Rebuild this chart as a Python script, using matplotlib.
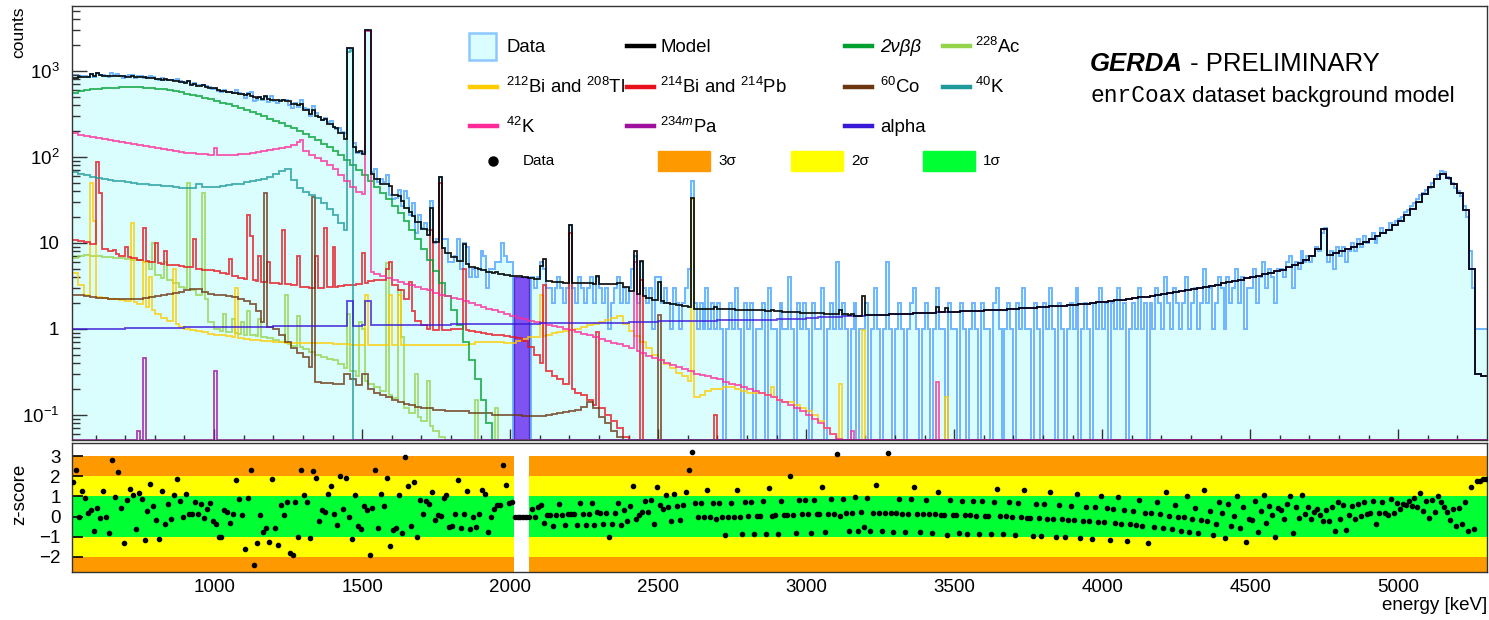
import math
from statistics import NormalDist
import numpy as np
import matplotlib
matplotlib.use("Agg")
import matplotlib.pyplot as plt
from matplotlib.lines import Line2D
from matplotlib.patches import Rectangle
from matplotlib.ticker import FixedLocator, FixedFormatter, NullFormatter

plt.rcParams['font.family'] = ['Liberation Sans', 'DejaVu Sans']
plt.rcParams['mathtext.fontset'] = 'custom'
plt.rcParams['mathtext.rm'] = 'Liberation Sans'
plt.rcParams['mathtext.it'] = 'Liberation Sans:italic'
plt.rcParams['mathtext.bf'] = 'Liberation Sans:bold'

# ---------------- binning ----------------
E_MIN, E_MAX = 520, 5300
BIN_W = 10          # data / model binning [keV]
GRID_W = 20         # resolution of the component continua [keV]
BLIND_LO, BLIND_HI = 2014, 2064
Y_MIN, Y_MAX = 0.051, 5700

# ---------------- component continua (counts per 10 keV, listed every 20 keV from 520 keV) ----------------
TWONBB = [560, 580, 595, 610, 620, 628, 635, 640, 643, 645,
          645, 643, 640, 635, 625, 612, 598, 582, 565, 547,
          528, 508, 488, 468, 448, 428, 408, 388, 368, 350,
          332, 314, 297, 280, 264, 248, 232, 216, 200, 185,
          170, 156, 142, 129, 116, 104, 92, 81, 71, 62,
          53, 45, 38, 32, 27, 22, 18, 14, 11, 8.5,
          6.4, 4.7, 3.4, 2.4, 1.65, 1.1, 0.7, 0.43, 0.26, 0.15,
          0.08, 0.04, 0.02, 0.008, 0.003, 0.001]
K42 = [188, 182, 177, 172, 167, 162, 157, 153, 149, 145,
       141, 137, 133, 129, 126, 123, 120, 117, 114, 112,
       110, 108, 107, 106, 105, 105, 105, 106, 107, 109,
       111, 113, 116, 119, 123, 127, 132, 138, 148, 118,
       106, 97, 89, 80, 72, 62, 52, 45, 39, 37,
       4.6, 4.4, 4.1, 3.9, 3.7, 3.5, 3.35, 3.2, 3.1, 2.95,
       2.8, 2.65, 2.5, 2.4, 2.3, 2.2, 2.1, 2.0, 1.9, 1.8,
       1.72, 1.64, 1.56, 1.48, 1.41, 1.35, 1.3, 1.25, 1.2, 1.16,
       1.12, 1.08, 1.04, 1.0, 0.96, 0.92, 0.88, 0.84, 0.8, 0.76,
       0.72, 0.69, 0.66, 0.63, 0.6, 0.56, 0.52, 0.49, 0.46, 0.43,
       0.4, 0.38, 0.36, 0.34, 0.32, 0.3, 0.29, 0.28, 0.27, 0.26,
       0.24, 0.23, 0.22, 0.21, 0.2, 0.19, 0.18, 0.17, 0.16, 0.15,
       0.14, 0.13, 0.12, 0.11, 0.1, 0.09, 0.08, 0.07, 0.06, 0.052,
       0.045, 0.04]
K40 = [66, 63, 61, 59, 57, 56, 54, 53, 52, 51,
       50, 49, 48, 47, 47, 46, 46, 45, 44, 44,
       44, 48, 45, 45, 45, 46, 47, 48, 49, 51,
       52, 54, 56, 59, 63, 68, 72, 54, 44, 39,
       36, 33, 29, 25, 21, 17, 14]
BI214 = [10.8, 10.5, 10.2, 9.8, 9.3, 8.6, 8.0, 7.5, 7.1, 6.8,
         6.6, 6.4, 6.2, 6.0, 5.8, 5.7, 5.6, 5.5, 5.4, 5.3,
         5.2, 5.0, 4.9, 4.8, 4.7, 4.5, 4.3, 4.1, 3.9, 3.8,
         3.7, 3.6, 3.5, 3.45, 3.4, 3.35, 3.3, 3.2, 3.1, 3.05,
         3.0, 3.0, 3.0, 3.05, 3.1, 3.15, 3.2, 3.25, 3.3, 3.4,
         3.6, 3.7, 3.7, 3.5, 3.2, 2.8, 2.2, 1.6, 1.25, 1.1,
         1.0, 0.97, 0.97, 0.98, 1.0, 1.0, 0.98, 0.95, 0.92, 0.9,
         0.88, 0.86, 0.84, 0.82, 0.8, 0.78, 0.72, 0.62, 0.5, 0.4,
         0.32, 0.28, 0.26, 0.23, 0.2, 0.18, 0.17, 0.15, 0.13, 0.12,
         0.1, 0.085, 0.07, 0.055, 0.04]
CO60 = [2.5, 2.45, 2.4, 2.35, 2.3, 2.28, 2.25, 2.22, 2.2, 2.2,
        2.2, 2.22, 2.27, 2.33, 2.4, 2.48, 2.56, 2.64, 2.72, 2.8,
        2.88, 2.95, 2.7, 2.55, 2.5, 2.45, 2.4, 2.35, 2.25, 2.1,
        1.95, 1.6, 1.2, 1.05, 1.0, 0.85, 0.7, 0.6, 0.53, 0.47,
        0.36, 0.24, 0.235, 0.235, 0.23, 0.23, 0.3, 0.26, 0.22, 0.3,
        0.2, 0.18, 0.17, 0.16, 0.15, 0.14, 0.135, 0.13, 0.125, 0.12,
        0.12, 0.115, 0.115, 0.11, 0.11, 0.11, 0.11, 0.105, 0.105, 0.105,
        0.105, 0.1, 0.1, 0.1, 0.1, 0.1, 0.098, 0.096, 0.096, 0.098,
        0.1, 0.102, 0.105, 0.108, 0.11, 0.115, 0.125, 0.14, 0.12, 0.095,
        0.08, 0.065, 0.055, 0.045]
TL208 = [4.5, 3.2, 2.5, 2.4, 2.35, 2.3, 2.25, 2.2, 2.15, 2.1,
         2.05, 1.95, 1.8, 1.65, 1.5, 1.35, 1.25, 1.15, 1.05, 1.0,
         0.97, 0.94, 0.91, 0.88, 0.86, 0.84, 0.82, 0.8, 0.78, 0.76,
         0.75, 0.74, 0.73, 0.72, 0.71, 0.7, 0.69, 0.69, 0.69, 0.69,
         0.69, 0.69, 0.68, 0.68, 0.67, 0.67, 0.66, 0.65, 0.65, 0.65,
         0.65, 0.65, 0.65, 0.65, 0.65, 0.65, 0.65, 0.65, 0.65, 0.65,
         0.65, 0.65, 0.65, 0.65, 0.65, 0.65, 0.65, 0.66, 0.7, 0.71,
         0.71, 0.7, 0.7, 0.69, 0.69, 0.72, 0.76, 0.8, 0.81, 0.83,
         0.86, 0.89, 0.92, 0.95, 0.98, 1.01, 1.05, 1.1, 1.15, 1.2,
         1.26, 1.33, 1.42, 1.15, 0.95, 0.82, 0.7, 0.6, 0.5, 0.44,
         0.39, 0.35, 0.31, 0.28, 0.25, 0.16, 0.17, 0.19, 0.2, 0.2,
         0.21, 0.21, 0.2, 0.19, 0.18, 0.18, 0.18, 0.17, 0.16, 0.15,
         0.14, 0.14, 0.13, 0.12, 0.11, 0.1, 0.085, 0.07, 0.06, 0.05,
         0.04]
AC228 = [6.7, 7.0, 7.2, 7.1, 7.0, 6.9, 6.8, 6.7, 6.6, 6.5,
         6.4, 6.3, 6.0, 5.0, 4.2, 3.9, 3.7, 3.4, 3.1, 3.0,
         2.8, 2.5, 2.2, 1.2, 1.0, 0.95, 0.92, 0.9, 0.88, 0.86,
         0.84, 0.82, 0.8, 0.78, 0.74, 0.7, 0.67, 0.64, 0.62, 0.58,
         0.54, 0.5, 0.47, 0.45, 0.43, 0.39, 0.35, 0.32, 0.28, 0.25,
         0.23, 0.21, 0.19, 0.17, 0.155, 0.14, 0.12, 0.105, 0.095, 0.085,
         0.075, 0.065, 0.055, 0.048, 0.04]
PA234 = []
ALPHA = [1.00, 1.00, 1.00, 1.00, 1.00, 1.01, 1.01, 1.01, 1.01, 1.02, 1.02, 1.02,
         1.02, 1.02, 1.03, 1.03, 1.03, 1.03, 1.03, 1.04, 1.04, 1.04, 1.04, 1.04,
         1.05, 1.05, 1.05, 1.05, 1.05, 1.06, 1.06, 1.06, 1.06, 1.06, 1.07, 1.07, 1.07,
         1.07, 1.07, 1.08, 1.08, 1.08, 1.08, 1.08, 1.09, 1.09, 1.09, 1.09, 1.09,
         1.10, 1.10, 1.10, 1.10, 1.10, 1.11, 1.11, 1.11, 1.11, 1.11, 1.12, 1.12, 1.12,
         1.12, 1.12, 1.13, 1.13, 1.13, 1.13, 1.13, 1.14, 1.14, 1.14, 1.14, 1.14,
         1.15, 1.15, 1.15, 1.15, 1.15, 1.16, 1.16, 1.16, 1.16, 1.16, 1.17, 1.17, 1.17,
         1.17, 1.17, 1.18, 1.18, 1.18, 1.18, 1.18, 1.20, 1.20, 1.20, 1.20, 1.20,
         1.22, 1.22, 1.22, 1.22, 1.22, 1.24, 1.24, 1.24, 1.24, 1.24, 1.26, 1.26, 1.26,
         1.26, 1.26, 1.28, 1.28, 1.28, 1.28, 1.28, 1.31, 1.31, 1.31, 1.31, 1.31,
         1.34, 1.35, 1.36, 1.37, 1.38, 1.39, 1.40, 1.41, 1.42, 1.43, 1.44, 1.45, 1.46,
         1.47, 1.48, 1.49, 1.50, 1.51, 1.52, 1.53, 1.54, 1.55, 1.56, 1.57, 1.58,
         1.59, 1.60, 1.61, 1.62, 1.63, 1.64, 1.65, 1.66, 1.67, 1.69, 1.71, 1.73, 1.75,
         1.77, 1.79, 1.81, 1.83, 1.85, 1.87, 1.89, 1.91, 1.94, 1.97, 2.00, 2.03,
         2.06, 2.10, 2.14, 2.18, 2.22, 2.27, 2.32, 2.37, 2.42, 2.48, 2.54, 2.60, 2.67,
         2.74, 2.82, 2.90, 2.99, 3.08, 3.18, 3.28, 3.39, 3.50, 3.62, 3.74, 3.87,
         4.0, 4.15, 4.3, 4.5, 4.7, 4.9, 5.2, 5.5, 5.9, 6.4, 7.0, 8.5, 14.5,
         7.3, 7.6, 8.0, 8.5, 9.0, 9.6, 10.3, 11.0, 12.0, 13.0, 14.3, 16.0,
         18, 21, 25, 30, 37, 45, 55, 63, 57, 48, 38, 24, 5, 0.3, 0.28]

# ---------------- gamma lines: (bin low edge [keV], bin content) ----------------
TWONBB_PEAKS = []
K42_PEAKS = [(1000, 128), (1290, 158), (1510, 2900), (1520, 2950), (2420, 6.0),
             (3150, 0.065), (3440, 0.24)]
K40_PEAKS = [(1450, 1680), (1460, 1720)]
BI214_PEAKS = [(600, 87), (610, 38), (660, 8.3), (700, 9), (760, 15), (800, 10), (830, 8),
               (930, 11), (1050, 6.5), (1110, 21), (1120, 12), (1150, 7), (1180, 6),
               (1230, 14), (1280, 7), (1340, 7), (1370, 15), (1400, 9), (1500, 7.6),
               (1580, 5), (1590, 6), (1660, 3.5), (1730, 14), (1760, 50), (1840, 5),
               (2110, 3.2), (2200, 13), (2290, 0.93), (2440, 3.7), (2690, 0.1)]
CO60_PEAKS = [(1170, 38), (1330, 34), (2500, 1.45)]
TL208_PEAKS = [(580, 50), (590, 18), (720, 17), (760, 6), (780, 4), (860, 5), (1070, 3),
               (1510, 2.5), (1590, 2.5), (1620, 2.5), (2100, 2.5), (2610, 32),
               (2880, 0.21), (3110, 0.23), (3190, 0.97), (3470, 0.16)]
AC228_PEAKS = [(790, 10), (830, 6), (910, 50), (960, 38), (1030, 1.5), (1060, 1.3),
               (1090, 1.2), (1110, 1.6), (1150, 1.3), (1240, 2.5), (1280, 1.4), (1450, 1.5),
               (1490, 1.2), (1500, 1.0), (1580, 5.9), (1620, 2.85), (1630, 0.8),
               (1680, 0.3), (1720, 0.25), (1880, 0.15), (1950, 0.12)]
PA234_PEAKS = [(740, 0.065), (760, 0.46), (1000, 0.32)]
ALPHA_PEAKS = [(1450, 2.1), (1460, 2.1), (1510, 2.1), (1520, 2.1)]

# ---------------- data ----------------
# z-scores for 520-2010 keV (data there = model + z*sqrt(model))
Z_LOW = [1.7, 2.3, 0.0, 1.25, 0.9, 0.2, 0.35, -0.7, 0.45, -0.05,
         1.25, 0.0, -0.8, 2.8, 0.95, 2.2, 0.45, -1.3, 0.8, 1.35,
         1.05, -0.6, 1.15, 0.85, -1.15, 0.3, 1.6, 0.5, -0.15, -1.1,
         1.25, -0.35, 0.6, -0.1, 1.05, 1.85, 0.75, 0.0, 1.1, 0.15,
         0.15, 0.7, 0.15, 0.6, -0.05, 0.4, 0.65, -0.2, -0.35, -1.0,
         -1.0, 0.35, 0.25, -0.3, 0.15, 1.8, 0.85, 0.1, -1.6, 0.9,
         2.3, -2.4, -1.3, 0.1, -0.75, -0.55, -1.25, 1.85, -0.55, -1.4,
         0.55, 0.1, 0.7, -1.8, -1.9, 0.7, -1.0, 2.3, 1.05, 0.7,
         -1.05, 2.25, 1.9, -0.2, 0.35, 0.25, 1.1, 1.5, 0.15, -0.4,
         2.0, 0.4, 1.9, 0.0, -1.1, 1.05, -0.45, -0.6, 0.5, 0.35,
         -1.9, 0.45, 2.3, -0.55, 1.1, 0.5, 1.9, -1.45, -0.65, -0.55,
         1.05, -0.8, 2.95, 1.5, -0.45, 1.7, -1.0, 0.8, 0.15, 0.75,
         0.6, 1.2, -0.15, 0.1, 0.05, 0.9, 1.05, -0.5, -0.45, 0.15,
         1.8, -0.55, 0.15, 1.25, -0.6, 0.0, -0.5, 0.15, 1.3, 1.1,
         -0.75, 0.0, 0.4, 0.55, 0.55, 2.55, 1.55, 0.65, 0.7]
# observed counts per 10 keV from 2070 keV to 5300 keV
DATA_HIGH = [4, 3, 4, 6, 5, 3, 3, 2, 3, 4,
             3, 2, 3, 16, 3, 2, 4, 3, 2, 3,
             4, 2, 4, 3, 2, 3, 1, 2, 3, 4,
             2, 3, 2, 3, 5, 7, 2, 6, 3, 2,
             3, 1, 4, 4, 2, 3, 2, 1, 3, 2,
             1, 2, 3, 5, 53, 2, 1, 2, 1, 3,
             1, 2, 1,
             2, 1, 0, 1, 2, 1, 3, 1, 0, 2,
             1, 2, 0, 1, 1, 2, 0, 3, 1, 1,
             0, 2, 1, 1, 4, 1, 0, 2, 1, 2,
             1, 0, 2, 1, 1, 3, 0, 1, 2, 1,
             6, 1, 2, 1, 0, 1, 2, 0, 1, 1,
             2, 0, 1, 3, 1, 0, 1, 6, 1, 0,
             1, 2, 1, 0, 1, 2, 3, 1, 0, 1,
             2, 1, 0, 1, 3, 1, 1, 0, 2, 1,
             1, 0, 2, 1, 0, 1, 2, 1, 0, 2,
             1, 1, 0, 2, 3, 1, 0, 1, 2, 1,
             0, 2, 1, 3, 1, 1, 0, 2, 1, 0,
             2, 1, 3, 1, 0, 2, 1, 0, 1, 2,
             1, 3, 0, 1, 2, 1, 0, 2, 1, 3,
             1, 2, 0, 2, 1, 3, 1, 2, 0, 1,
             2, 1, 3, 1, 2, 0, 2, 1, 3, 2,
             1, 4, 2, 1, 3, 2, 1, 2, 4, 1,
             2, 3, 1, 2, 5, 2, 3, 1, 2, 4,
             3, 1, 4, 2, 3, 5, 2, 4, 1, 3,
             3, 5, 2, 4, 6, 3, 5, 4, 2, 5,
             5, 4, 6, 7, 3, 6, 5, 8, 6, 7,
             6, 7, 9, 8, 13, 15, 6, 8, 5, 9,
             7, 9, 6, 8, 10, 8, 11, 9, 12, 10,
             11, 13, 10, 12, 15, 13, 14, 17, 16, 18,
             19, 20, 23, 24, 27, 29, 32, 36, 38, 41,
             44, 50, 56, 62, 68, 66, 58, 55, 50, 44,
             40, 35, 27, 20, 8, 3, 1, 1, 1, 1]

# ---------------- build histograms ----------------
edges = np.arange(E_MIN, E_MAX + BIN_W, BIN_W)
centers = 0.5 * (edges[:-1] + edges[1:])
n_bins = len(centers)
n_grid = (E_MAX - E_MIN) // GRID_W


def component(cont, peaks):
    c = np.zeros(n_grid)
    c[:len(cont)] = cont
    v = np.repeat(c, GRID_W // BIN_W).astype(float)
    for e, h in peaks:
        i = int((e - E_MIN) // BIN_W)
        v[i] = max(v[i], h)
    return v


comps = {
    'ac228': component(AC228, AC228_PEAKS),
    'tl208': component(TL208, TL208_PEAKS),
    'bi214': component(BI214, BI214_PEAKS),
    'co60': component(CO60, CO60_PEAKS),
    '2nbb': component(TWONBB, TWONBB_PEAKS),
    'k40': component(K40, K40_PEAKS),
    'k42': component(K42, K42_PEAKS),
    'alpha': component(ALPHA, ALPHA_PEAKS),
    'pa234': component(PA234, PA234_PEAKS),
}
model = sum(comps.values())

blind = (edges[1:] > BLIND_LO) & (edges[:-1] < BLIND_HI)
n_low = len(Z_LOW)
hi_start = n_bins - len(DATA_HIGH)

data = np.zeros(n_bins)
zlow = np.array(Z_LOW)
data[:n_low] = np.round(model[:n_low] + zlow * np.sqrt(model[:n_low]))
data[hi_start:] = DATA_HIGH

_nd = NormalDist()


def pois_z(d, mu):
    """z-score from the Poisson cumulative probability P(X <= d | mu)."""
    d = int(d)
    p = sum(math.exp(-mu + i * math.log(mu) - math.lgamma(i + 1)) for i in range(d + 1))
    p = min(max(p, 1e-12), 1 - 1e-12)
    return _nd.inv_cdf(p)


zscore = np.zeros(n_bins)
zscore[:n_low] = zlow
for i in range(hi_start, n_bins):
    zscore[i] = pois_z(data[i], model[i])
zscore[blind] = 0.0

# ---------------- figure ----------------
W, H = 1489, 620
fig = plt.figure(figsize=(W / 100, H / 100), dpi=100)
ax = fig.add_axes([72 / W, 1 - 440 / H, (1487 - 72) / W, (440 - 6) / H])
ax2 = fig.add_axes([72 / W, 1 - 572 / H, (1487 - 72) / W, (572 - 443) / H])

SPINE = '#333333'
DATA_FILL = '#dafdfe'
DATA_EDGE = '#6fb6ff'
COLORS = {
    'ac228': '#93d44a', 'tl208': '#ffcc00', 'bi214': '#e8101a', 'co60': '#6b3510',
    '2nbb': '#00a030', 'k40': '#1f9a9a', 'k42': '#ff2a9a', 'alpha': '#3a18d8',
    'pa234': '#a0109f',
}

# data histogram
dplot = np.clip(data, 1e-3, None)
ax.stairs(dplot, edges, baseline=1e-3, fill=True, color=DATA_FILL, zorder=1)
ax.stairs(dplot, edges, baseline=None, color=DATA_EDGE, lw=1.4, zorder=1.5)

# blinded window
blind_level = model[blind].mean()
ax.add_patch(Rectangle((BLIND_LO, 1e-3), BLIND_HI - BLIND_LO, blind_level - 1e-3,
                       facecolor='#7040f0', edgecolor='#4a22c8', lw=1.0, alpha=0.9, zorder=2))

for key in ['ac228', 'tl208', 'bi214', 'co60', '2nbb', 'k40', 'k42', 'alpha', 'pa234']:
    vals = np.clip(comps[key], Y_MIN, None)
    ax.stairs(vals, edges, baseline=None, color=COLORS[key], lw=1.3, alpha=0.8, zorder=3)

ax.stairs(model, edges, baseline=None, color='black', lw=1.3, zorder=4, alpha=0.9)

ax.set_xlim(E_MIN, E_MAX)
ax.set_yscale('log')
ax.set_ylim(Y_MIN, Y_MAX)
ax.yaxis.set_major_locator(FixedLocator([0.1, 1, 10, 100, 1000]))
ax.yaxis.set_major_formatter(FixedFormatter([r'$10^{-1}$', '1', '10', r'$10^{2}$', r'$10^{3}$']))
ax.yaxis.set_minor_locator(FixedLocator([m * 10.0 ** k for k in range(-2, 4) for m in range(2, 10)]))
ax.yaxis.set_minor_formatter(NullFormatter())
ax.xaxis.set_major_locator(FixedLocator(np.arange(1000, 5001, 500)))
ax.xaxis.set_minor_locator(FixedLocator(np.arange(600, 5300, 100)))
ax.tick_params(axis='y', which='major', direction='in', length=11, width=1.0,
               labelsize=13.5, pad=9, color=SPINE)
ax.tick_params(axis='y', which='minor', direction='in', length=6, width=1.0, color=SPINE)
ax.tick_params(axis='x', which='major', direction='in', length=8, width=1.0, color=SPINE,
               labelbottom=False)
ax.tick_params(axis='x', which='minor', direction='in', length=3.5, width=1.0, color=SPINE)
for s in ax.spines.values():
    s.set_color(SPINE)
    s.set_linewidth(1.0)
    s.set_zorder(6)

# ---------------- z-score panel ----------------
SIGMA_BANDS = [(3, '#ff9900'), (2, '#ffff00'), (1, '#00ff33')]
for lo, hi in [(E_MIN, BLIND_LO), (BLIND_HI, E_MAX)]:
    for k, col in SIGMA_BANDS:
        ax2.fill_between([lo, hi], -k, k, color=col, lw=0, zorder=1)
ax2.plot(centers, zscore, 'o', color='black', ms=3.0, zorder=5)
ax2.set_xlim(E_MIN, E_MAX)
ax2.set_ylim(-2.75, 3.65)
ax2.yaxis.set_major_locator(FixedLocator([-2, -1, 0, 1, 2, 3]))
ax2.yaxis.set_major_formatter(FixedFormatter(['\u22122', '\u22121', '0', '1', '2', '3']))
ax2.xaxis.set_major_locator(FixedLocator(np.arange(1000, 5001, 500)))
ax2.tick_params(axis='y', direction='in', length=8, width=1.2, labelsize=13.5, pad=8, color='black')
ax2.tick_params(axis='x', direction='in', length=0, labelsize=13.5, pad=5)
for s in ax2.spines.values():
    s.set_color(SPINE)
    s.set_linewidth(1.0)

# ---------------- axis titles ----------------
fig.text(19 / W, 1 - 6 / H, 'counts', rotation=90, ha='center', va='top', fontsize=12.5)
fig.text(20 / W, 1 - 494 / H, 'z-score', rotation=90, ha='center', va='center', fontsize=13.5)
fig.text(1487 / W, 1 - 606 / H, 'energy [keV]', ha='right', va='center', fontsize=13.5)


# ---------------- legend ----------------
def fx(x):
    return x / W


def fy(y):
    return 1 - y / H


def leg_line(x0, y, color):
    fig.add_artist(Line2D([fx(x0), fx(x0 + 27)], [fy(y), fy(y)], color=color, lw=3.2,
                          transform=fig.transFigure))


def leg_text(x, y, s, size=13.4, **kw):
    fig.text(fx(x), fy(y), s, fontsize=size, ha='left', va='center', **kw)


fig.add_artist(Rectangle((fx(469), fy(60)), (496 - 469) / W, (60 - 33) / H, transform=fig.transFigure,
                         facecolor=DATA_FILL, edgecolor='#8cc8ff', lw=1.8))
leg_text(506, 47, 'Data')
leg_line(627, 46, 'black')
leg_text(660, 47, 'Model')
leg_line(845, 46, COLORS['2nbb'])
leg_text(880, 47, '2\u03bd\u03b2\u03b2', style='italic')
leg_line(943, 46, COLORS['ac228'])
leg_text(975, 47, r'$^{228}$Ac')

leg_line(470, 87, COLORS['tl208'])
leg_text(506, 87, r'$^{212}$Bi and $^{208}$Tl')
leg_line(627, 87, COLORS['bi214'])
leg_text(660, 87, r'$^{214}$Bi and $^{214}$Pb')
leg_line(845, 87, COLORS['co60'])
leg_text(880, 87, r'$^{60}$Co')
leg_line(943, 87, COLORS['k40'])
leg_text(975, 87, r'$^{40}$K')

leg_line(470, 126, COLORS['k42'])
leg_text(506, 127, r'$^{42}$K')
leg_line(627, 126, COLORS['pa234'])
leg_text(660, 127, r'$^{234m}$Pa')
leg_line(845, 126, COLORS['alpha'])
leg_text(880, 127, 'alpha')

fig.add_artist(Line2D([fx(493)], [fy(161)], marker='o', ms=6.5, color='black', lw=0,
                      transform=fig.transFigure))
leg_text(523, 161, 'Data', size=11)
for (x0, lab), (k, col) in zip([(658, '3\u03c3'), (791, '2\u03c3'), (923, '1\u03c3')], SIGMA_BANDS):
    fig.add_artist(Rectangle((fx(x0), fy(171)), 52 / W, 20 / H, transform=fig.transFigure,
                             facecolor=col, edgecolor=col, lw=1))
    leg_text(x0 + 60, 161, lab, size=11)

# ---------------- title text ----------------
renderer = fig.canvas.get_renderer()
t1 = fig.text(fx(1090), fy(71), 'GERDA', fontsize=18.5, fontweight='bold', fontstyle='italic',
              ha='left', va='baseline')
bb = t1.get_window_extent(renderer)
fig.text(bb.x1 / fig.bbox.width, fy(71), ' - PRELIMINARY', fontsize=18.5, ha='left', va='baseline')
t3 = fig.text(fx(1090), fy(102), 'enrCoax', fontsize=16.5, family='Liberation Mono',
              ha='left', va='baseline')
bb = t3.get_window_extent(renderer)
fig.text(bb.x1 / fig.bbox.width, fy(102), ' dataset background model', fontsize=16,
         ha='left', va='baseline')

fig.savefig('out.png', dpi=100)
